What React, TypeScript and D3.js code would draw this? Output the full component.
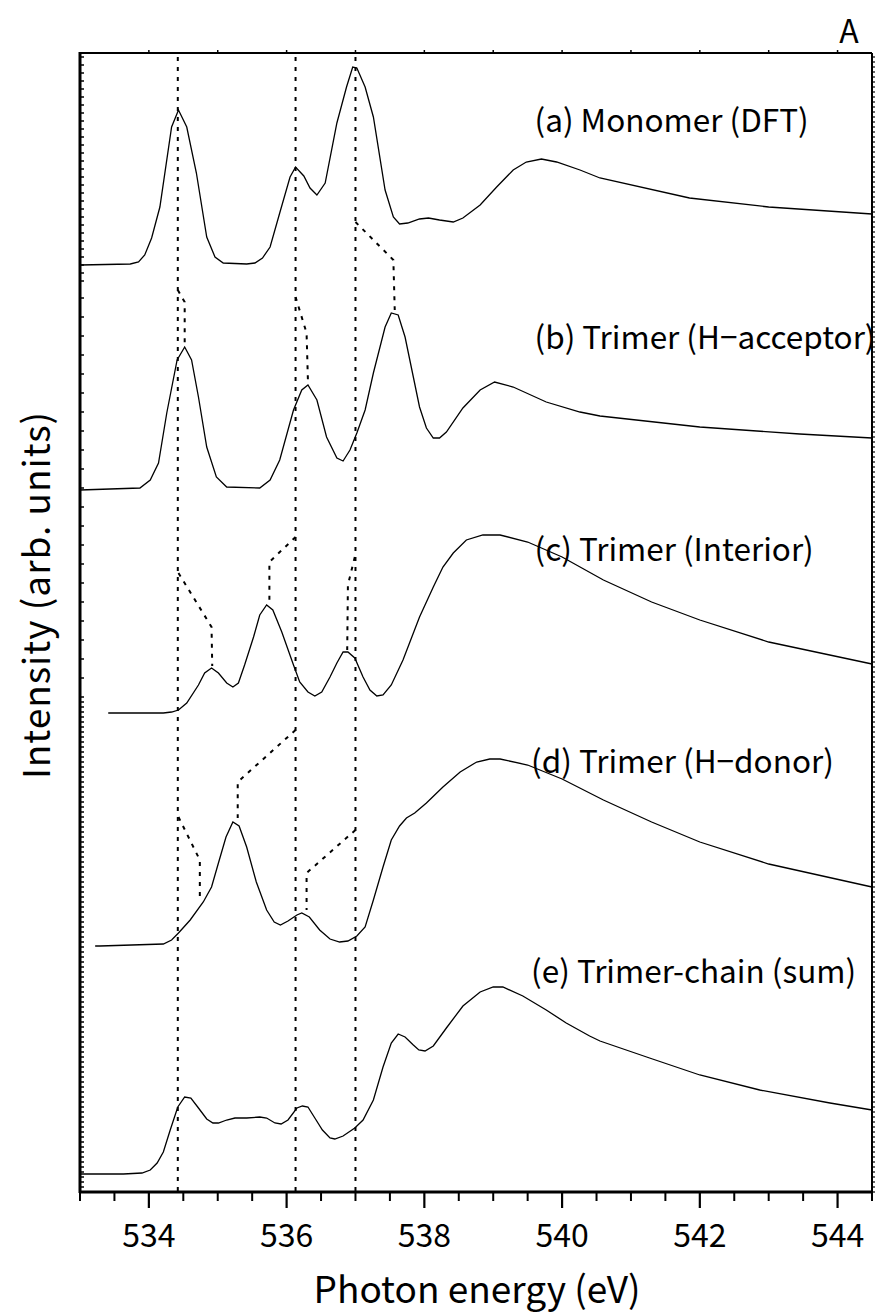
import React from "react";
import * as d3 from "d3";

// Canvas and plot frame
const WIDTH = 875;
const HEIGHT = 1314;
const MARGIN = { left: 80, right: 3, top: 53, bottom: 122 };

// Axis domains
const X_DOMAIN: [number, number] = [533, 544.5];
const Y_DOMAIN: [number, number] = [0, 11.39];
const X_MAJOR_TICKS = [534, 536, 538, 540, 542, 544];

// Reference peak energies of the monomer (vertical guides)
const GUIDE_ENERGIES = [534.42, 536.13, 537.0];

// (a) Monomer (DFT)
const monomerEnergy = [533.0, 533.73, 533.85, 533.94, 534.04, 534.16, 534.33, 534.43, 534.55, 534.69, 534.84, 534.96, 535.08, 535.42, 535.54, 535.65, 535.76, 535.9, 536.05, 536.13, 536.25, 536.34, 536.44, 536.56, 536.73, 536.87, 536.96, 537.02, 537.14, 537.26, 537.43, 537.55, 537.64, 537.76, 537.93, 538.06, 538.22, 538.42, 538.56, 538.81, 539.05, 539.29, 539.48, 539.7, 539.92, 540.26, 540.55, 541.85, 543.0, 544.5];
const monomerIntensity = [9.27, 9.28, 9.3, 9.37, 9.54, 9.85, 10.65, 10.82, 10.65, 10.19, 9.55, 9.35, 9.29, 9.28, 9.29, 9.34, 9.45, 9.79, 10.15, 10.25, 10.16, 10.04, 9.97, 10.09, 10.69, 11.05, 11.25, 11.24, 11.05, 10.75, 10.02, 9.75, 9.68, 9.69, 9.73, 9.74, 9.72, 9.7, 9.74, 9.87, 10.05, 10.22, 10.3, 10.33, 10.3, 10.22, 10.14, 9.94, 9.85, 9.78];

// (b) Trimer (H-acceptor)
const acceptorEnergy = [533.0, 533.87, 534.02, 534.14, 534.26, 534.41, 534.52, 534.62, 534.72, 534.84, 534.98, 535.13, 535.61, 535.76, 535.9, 536.1, 536.22, 536.31, 536.44, 536.58, 536.73, 536.82, 536.92, 537.02, 537.14, 537.26, 537.43, 537.52, 537.62, 537.72, 537.84, 537.93, 538.03, 538.13, 538.22, 538.32, 538.56, 538.81, 539.02, 539.29, 539.77, 540.26, 540.55, 542.0, 543.45, 544.5];
const acceptorIntensity = [7.02, 7.04, 7.12, 7.29, 7.79, 8.32, 8.45, 8.32, 7.95, 7.45, 7.15, 7.05, 7.04, 7.12, 7.32, 7.82, 8.02, 8.07, 7.92, 7.55, 7.34, 7.31, 7.42, 7.59, 7.82, 8.19, 8.65, 8.79, 8.77, 8.55, 8.15, 7.85, 7.64, 7.54, 7.54, 7.6, 7.84, 8.02, 8.1, 8.05, 7.9, 7.8, 7.76, 7.65, 7.58, 7.54];

// (c) Trimer (Interior)
const interiorEnergy = [533.41, 534.21, 534.33, 534.43, 534.55, 534.72, 534.81, 534.91, 535.01, 535.13, 535.22, 535.3, 535.39, 535.52, 535.61, 535.71, 535.8, 535.93, 536.1, 536.19, 536.31, 536.41, 536.51, 536.63, 536.73, 536.82, 536.89, 536.99, 537.11, 537.21, 537.31, 537.4, 537.52, 537.69, 537.93, 538.13, 538.27, 538.42, 538.61, 538.85, 539.1, 539.5, 540.0, 540.6, 541.3, 542.0, 543.0, 544.5];
const interiorIntensity = [4.79, 4.79, 4.8, 4.82, 4.89, 5.07, 5.19, 5.24, 5.19, 5.09, 5.05, 5.09, 5.27, 5.55, 5.77, 5.87, 5.82, 5.6, 5.27, 5.1, 5.0, 4.96, 5.0, 5.15, 5.29, 5.4, 5.4, 5.34, 5.15, 5.02, 4.96, 4.97, 5.07, 5.32, 5.75, 6.05, 6.25, 6.39, 6.52, 6.57, 6.57, 6.5, 6.35, 6.12, 5.9, 5.72, 5.5, 5.28];

// (d) Trimer (H-donor)
const donorEnergy = [533.22, 533.29, 534.21, 534.33, 534.43, 534.6, 534.79, 534.91, 535.01, 535.12, 535.22, 535.31, 535.42, 535.56, 535.71, 535.82, 535.91, 536.02, 536.15, 536.22, 536.33, 536.48, 536.63, 536.77, 536.89, 537.02, 537.14, 537.26, 537.4, 537.52, 537.64, 537.74, 537.86, 538.03, 538.27, 538.52, 538.76, 538.95, 539.1, 539.5, 540.0, 540.6, 541.3, 542.0, 543.0, 544.5];
const donorIntensity = [2.46, 2.46, 2.48, 2.52, 2.59, 2.72, 2.9, 3.05, 3.29, 3.55, 3.7, 3.66, 3.45, 3.1, 2.82, 2.7, 2.67, 2.71, 2.77, 2.79, 2.75, 2.62, 2.53, 2.5, 2.51, 2.56, 2.65, 2.92, 3.25, 3.52, 3.66, 3.74, 3.79, 3.89, 4.05, 4.2, 4.3, 4.33, 4.33, 4.27, 4.13, 3.92, 3.7, 3.5, 3.28, 3.05];

// (e) Trimer-chain (sum)
const chainEnergy = [533.0, 533.63, 533.9, 534.02, 534.12, 534.21, 534.31, 534.42, 534.52, 534.61, 534.72, 534.84, 534.93, 535.01, 535.13, 535.25, 535.42, 535.61, 535.71, 535.83, 535.92, 536.02, 536.15, 536.23, 536.31, 536.41, 536.52, 536.63, 536.7, 536.82, 536.99, 537.11, 537.26, 537.4, 537.52, 537.62, 537.72, 537.84, 537.92, 538.01, 538.13, 538.32, 538.56, 538.81, 539.0, 539.14, 539.43, 539.77, 540.06, 540.4, 540.55, 541.27, 542.0, 542.87, 543.89, 544.5];
const chainIntensity = [0.18, 0.18, 0.19, 0.22, 0.29, 0.4, 0.62, 0.85, 0.95, 0.94, 0.84, 0.73, 0.69, 0.69, 0.72, 0.74, 0.74, 0.75, 0.74, 0.69, 0.68, 0.72, 0.84, 0.86, 0.85, 0.74, 0.62, 0.54, 0.53, 0.56, 0.64, 0.72, 0.92, 1.25, 1.49, 1.58, 1.55, 1.47, 1.42, 1.41, 1.46, 1.64, 1.86, 2.0, 2.05, 2.05, 1.96, 1.82, 1.69, 1.56, 1.51, 1.34, 1.17, 1.02, 0.89, 0.82];

// Spectrum labels, anchored at (energy, intensity) of their left baseline
const seriesLabels = ["(a) Monomer (DFT)", "(b) Trimer (H−acceptor)", "(c) Trimer (Interior)", "(d) Trimer (H−donor)", "(e) Trimer-chain (sum)"];
const labelEnergy = [539.6, 539.6, 539.6, 539.55, 539.55];
const labelIntensity = [10.6, 8.43, 6.31, 4.19, 2.09];

// Dotted connectors tracing each peak shift from the monomer guide lines
const shiftConnectors: [number, number][][] = [
  [[534.42, 9.02], [534.52, 8.9], [534.52, 8.49]],
  [[536.13, 8.95], [536.29, 8.59], [536.31, 8.1]],
  [[537.0, 9.7], [537.55, 9.32], [537.57, 8.82]],
  [[534.43, 6.19], [534.91, 5.65], [534.92, 5.26]],
  [[536.13, 6.55], [535.75, 6.3], [535.75, 5.9]],
  [[536.99, 6.35], [536.89, 6.07], [536.88, 5.42]],
  [[534.43, 3.75], [534.74, 3.32], [534.74, 2.94]],
  [[536.13, 4.62], [535.29, 4.1], [535.29, 3.74]],
  [[537.0, 3.62], [536.29, 3.19], [536.29, 2.82]],
];

const FONT = "'Noto Sans CJK JP', 'Noto Sans', sans-serif";

export default function App() {
  const x = d3.scaleLinear().domain(X_DOMAIN).range([MARGIN.left, WIDTH - MARGIN.right]);
  const y = d3.scaleLinear().domain(Y_DOMAIN).range([HEIGHT - MARGIN.bottom, MARGIN.top]);
  const x0 = MARGIN.left;
  const x1 = WIDTH - MARGIN.right;
  const y0 = HEIGHT - MARGIN.bottom;
  const y1 = MARGIN.top;

  const line = d3
    .line<[number, number]>()
    .x((d) => x(d[0]))
    .y((d) => y(d[1]))
    .curve(d3.curveLinear);

  const series = [
    d3.zip(monomerEnergy, monomerIntensity),
    d3.zip(acceptorEnergy, acceptorIntensity),
    d3.zip(interiorEnergy, interiorIntensity),
    d3.zip(donorEnergy, donorIntensity),
    d3.zip(chainEnergy, chainIntensity),
  ] as [number, number][][];

  const minorX = d3.range(533, 544.51, 0.5).filter((v) => !X_MAJOR_TICKS.includes(v));
  const topTicks = d3.range(534, 544.5, 1);

  // left axis minor ticks: three bands of differing density
  const leftTicks = [
    ...d3.range(9.11, 11.39, 0.08),
    ...d3.range(4.95, 9.11, 0.19),
    ...d3.range(0.0, 4.95, 0.05),
  ];
  const rightTicks = d3.range(0.0, 11.39, 0.05);

  return (
    <svg
      width={WIDTH}
      height={HEIGHT}
      style={{ position: "absolute", left: 0, top: 0, background: "#fff" }}
    >
      <rect x={0} y={0} width={WIDTH} height={HEIGHT} fill="#fff" />

      {/* guide lines at the monomer peaks */}
      {GUIDE_ENERGIES.map((e) => (
        <line
          key={`g${e}`}
          x1={x(e)}
          x2={x(e)}
          y1={y1 + 4}
          y2={y0}
          stroke="#000"
          strokeWidth={2}
          strokeDasharray="4,6"
        />
      ))}

      {shiftConnectors.map((c, i) => (
        <path
          key={`c${i}`}
          d={line(c) || ""}
          fill="none"
          stroke="#000"
          strokeWidth={2}
          strokeDasharray="4,6"
        />
      ))}

      {series.map((s, i) => (
        <path key={`s${i}`} d={line(s) || ""} fill="none" stroke="#000" strokeWidth={1.3} />
      ))}

      {seriesLabels.map((t, i) => (
        <text
          key={`l${i}`}
          x={x(labelEnergy[i])}
          y={y(labelIntensity[i])}
          fontFamily={FONT}
          fontSize={31.5}
          fill="#000"
        >
          {t}
        </text>
      ))}

      {/* frame */}
      <line x1={x0} x2={x1} y1={y1} y2={y1} stroke="#000" strokeWidth={2} />
      <line x1={x1} x2={x1} y1={y1} y2={y0} stroke="#000" strokeWidth={2} />
      <line x1={x0} x2={x1 + 1} y1={y0} y2={y0} stroke="#000" strokeWidth={3} />
      <line x1={x0} x2={x0} y1={y1 - 1} y2={y0 + 1} stroke="#000" strokeWidth={3} />

      {/* bottom axis ticks */}
      {X_MAJOR_TICKS.map((v) => (
        <g key={`xt${v}`}>
          <line x1={x(v)} x2={x(v)} y1={y0} y2={y0 + 16} stroke="#000" strokeWidth={2.2} />
          <text
            x={x(v)}
            y={y0 + 55}
            textAnchor="middle"
            fontFamily={FONT}
            fontSize={32}
            fill="#000"
          >
            {v}
          </text>
        </g>
      ))}
      {minorX.map((v) => (
        <line key={`xm${v}`} x1={x(v)} x2={x(v)} y1={y0} y2={y0 + 9} stroke="#000" strokeWidth={2} />
      ))}

      {/* top axis ticks */}
      {topTicks.map((v) => (
        <line key={`tt${v}`} x1={x(v)} x2={x(v)} y1={y1} y2={y1 - 3} stroke="#000" strokeWidth={1.5} />
      ))}

      {/* left & right axis ticks */}
      {leftTicks.map((v, i) => (
        <line key={`lt${i}`} x1={x0} x2={x0 + 4} y1={y(v)} y2={y(v)} stroke="#000" strokeWidth={1.5} />
      ))}
      {rightTicks.map((v, i) => (
        <line key={`rt${i}`} x1={x1} x2={x1 + 3} y1={y(v)} y2={y(v)} stroke="#000" strokeWidth={1.2} />
      ))}

      {/* panel letter */}
      <text x={849} y={43} textAnchor="middle" fontFamily={FONT} fontSize={32} fill="#000">
        A
      </text>

      {/* axis titles */}
      <text
        x={(x0 + x1) / 2 + 1}
        y={1303}
        textAnchor="middle"
        fontFamily={FONT}
        fontSize={37}
        fill="#000"
      >
        Photon energy (eV)
      </text>
      <text
        transform={`translate(50, 595) rotate(-90)`}
        textAnchor="middle"
        fontFamily={FONT}
        fontSize={37}
        letterSpacing={1}
        fill="#000"
      >
        Intensity (arb. units)
      </text>
    </svg>
  );
}
